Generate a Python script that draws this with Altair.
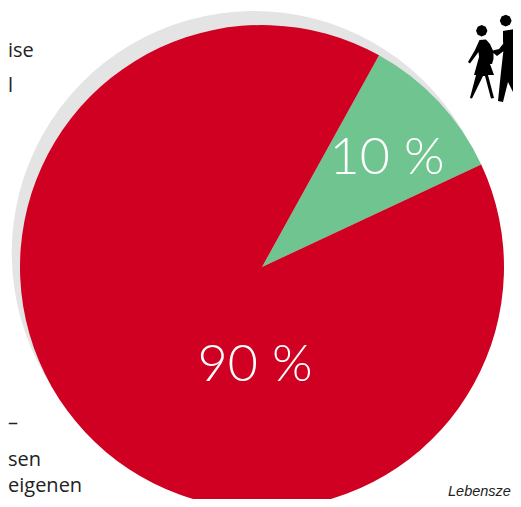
import altair as alt
import pandas as pd

# chart values
labels = ["10 %", "90 %"]
shares = [10, 90]
colors = ["#70c48f", "#cf0022"]

# fragments of text that the reference shows at its left edge
side_text = ["ise", "l", "–", "sen", "eigenen"]
side_base = [49, 84, 421, 458, 484]
source_text = "Lebensze"

# icon outlines in pixels of the page
woman = [(479.5, 40), (486, 39.5), (490, 44), (493, 50.5), (499, 49), (503, 44), (505, 50),
         (497, 56), (493.5, 53), (493.5, 59), (492, 64), (490, 64), (494, 75), (488, 75), (494, 98), (491, 98.5), (485, 76),
         (483, 76), (472, 98.5), (470, 98), (476, 75), (474, 75), (479, 57), (478.5, 52), (470, 63.5), (468, 62), (475, 50)]
man = [(503, 31), (515, 29), (521, 37), (521, 62), (516, 63), (515, 77), (521, 97), (521, 100), (517, 100),
       (508, 82), (503, 102), (498, 101), (501, 72), (503.5, 50), (503, 40)]


def circle(cx, cy, r):
    return [(cx - r, cy), (cx - r * .7, cy - r * .7), (cx, cy - r), (cx + r * .7, cy - r * .7),
            (cx + r, cy), (cx + r * .7, cy + r * .7), (cx, cy + r), (cx - r * .7, cy + r * .7)]


def to_path(points, cx=495, cy=62, half=41):
    out = [f"{(x - cx) / half:.3f},{(y - cy) / half:.3f}" for x, y in points]
    return "M" + "L".join(out) + "Z"


icon_path = " ".join([to_path(woman), to_path(man), to_path(circle(481.7, 30.7, 5.7)), to_path(circle(505.7, 20.7, 5.9))])

W, H = 505, 491
df = pd.DataFrame({"label": labels, "share": shares, "order": [0, 1]})
theta_scale = alt.Scale(domain=[0, 100], range=[0.505, 6.788])

shadow = alt.Chart(pd.DataFrame({"v": [100]})).mark_arc(radius=242, color="#e4e4e4").encode(
    theta=alt.Theta("v:Q", stack=True, scale=theta_scale),
    x=alt.value(247.5), y=alt.value(246))

pie = alt.Chart(df).mark_arc(radius=242).encode(
    theta=alt.Theta("share:Q", stack=True, scale=theta_scale),
    order=alt.Order("order:Q"),
    color=alt.Color("label:N", scale=alt.Scale(domain=labels, range=colors), legend=None),
    x=alt.value(254), y=alt.value(259))

pct = alt.Chart(pd.DataFrame({"label": labels, "px": [379, 247], "py": [166, 373]})).mark_text(
    font="Lato", fontWeight=300, fontSize=52, color="white", align="center", baseline="alphabetic").encode(
    text="label:N",
    x=alt.X("px:Q", scale=None), y=alt.Y("py:Q", scale=None))

side = alt.Chart(pd.DataFrame({"t": side_text, "px": [0] * 5, "py": side_base})).mark_text(
    font="Open Sans", fontSize=20, color="#222222", align="left", baseline="alphabetic").encode(
    text="t:N", x=alt.X("px:Q", scale=None), y=alt.Y("py:Q", scale=None))

source = alt.Chart(pd.DataFrame({"t": [source_text], "px": [440], "py": [488]})).mark_text(
    font="Liberation Sans", fontStyle="italic", fontSize=14.5, color="#222222", align="left", baseline="alphabetic").encode(
    text="t:N", x=alt.X("px:Q", scale=None), y=alt.Y("py:Q", scale=None))

icon = alt.Chart(pd.DataFrame({"px": [487], "py": [54]})).mark_point(
    shape=icon_path, size=6724, filled=True, color="black", opacity=1).encode(
    x=alt.X("px:Q", scale=None), y=alt.Y("py:Q", scale=None))

chart = alt.layer(shadow, pie, pct, side, source, icon).properties(
    width=W, height=H, padding=0, autosize=alt.AutoSizeParams(type="none")
).configure_view(stroke=None)

chart.save("out.html", embed_options={"renderer": "svg", "actions": False})
